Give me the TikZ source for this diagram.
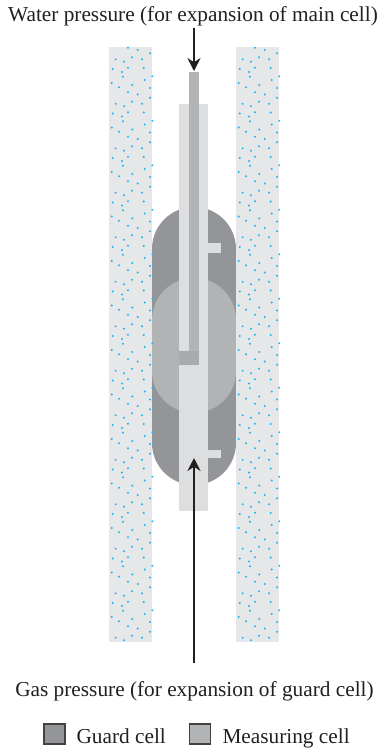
\documentclass[tikz,border=0pt]{standalone}
\usepackage{fontspec}
\setmainfont{Liberation Serif}
\usetikzlibrary{arrows.meta}
\definecolor{Dark}{HTML}{231F20}
\definecolor{Guard}{HTML}{949598}
\definecolor{Measuring}{HTML}{B1B3B5}
\definecolor{Duct}{HTML}{DCDEE0}
\definecolor{Wall}{HTML}{E6E7E8}
\definecolor{Speck}{HTML}{1CB5F0}
\tikzset{
    caption/.style={anchor=base, text=Dark, font=\fontsize{21.3}{24}\selectfont},
    keybox/.style={draw=Dark!85, line width=1.4pt},
    arrow/.style={-{Stealth[length=13pt,width=13pt]}, line width=1.2pt, color=Dark},
}
\begin{document}
\begin{tikzpicture}[x=1pt, y=-1pt]
    \useasboundingbox (0,0) rectangle (381,750);

    % Cells
    \fill[Guard, rounded corners=42pt] (152,207) rectangle (236,485);
    \fill[Measuring, rounded corners=42pt] (152,278) rectangle (236,413);

    % Ducts
    \fill[Duct] (179,104) rectangle (208,351);
    \fill[Duct] (208,243) rectangle (221,253);
    \fill[Duct] (179,365) rectangle (208,511);
    \fill[Duct] (199,351) rectangle (208,365);
    \fill[Duct] (208,450) rectangle (221,458);
    \fill[Measuring] (189,72) rectangle (199,365);
    \fill[Measuring!95!black] (179,351) rectangle (199,365);

    % Walls
    \foreach \wx in {109,236} {
        \fill[Wall] (\wx,47) rectangle (\wx+43,642);
        \begin{scope}
            \clip (\wx,47) rectangle (\wx+45,642);
            \foreach \row in {0,...,13}
                \foreach \sx/\sy in {19/0.7, 28.7/3, 41/6.3, 23/10.3, 6.7/12.3, 15/14.7, 33/12.3, 19/20.7, 3.7/22,
                        34.7/21, 13/25, 14/29.7, 43.3/29.3, 35.7/33, 2.7/36, 23.3/38, 41/41, 10/40.3}
                    \fill[Speck] (\wx+\sx,47+\sy+44.5*\row) circle[radius=1.1];
        \end{scope}
    }

    % Labels
    \node[caption] (waterlabel) at (193,21) {Water pressure (for expansion of main cell)};
    \node[caption] (gaslabel) at (194.5,696) {Gas pressure (for expansion of guard cell)};
    \coordinate (waterin) at (194,28);
    \coordinate (watertip) at (194,71);
    \coordinate (gasin) at (194,663);
    \coordinate (gastip) at (194,458);
    \draw[arrow] (waterin) -- (watertip);
    \draw[arrow] (gasin) -- (gastip);

    % Key
    \draw[keybox, fill=Guard] (44,724) rectangle (65,744);
    \draw[keybox, fill=Measuring] (189.5,724) rectangle (210.5,744);
    \node[caption, anchor=base west] (guardkey) at (73,743) {Guard cell};
    \node[caption, anchor=base west] (measuringkey) at (219,743) {Measuring cell};
\end{tikzpicture}
\end{document}
